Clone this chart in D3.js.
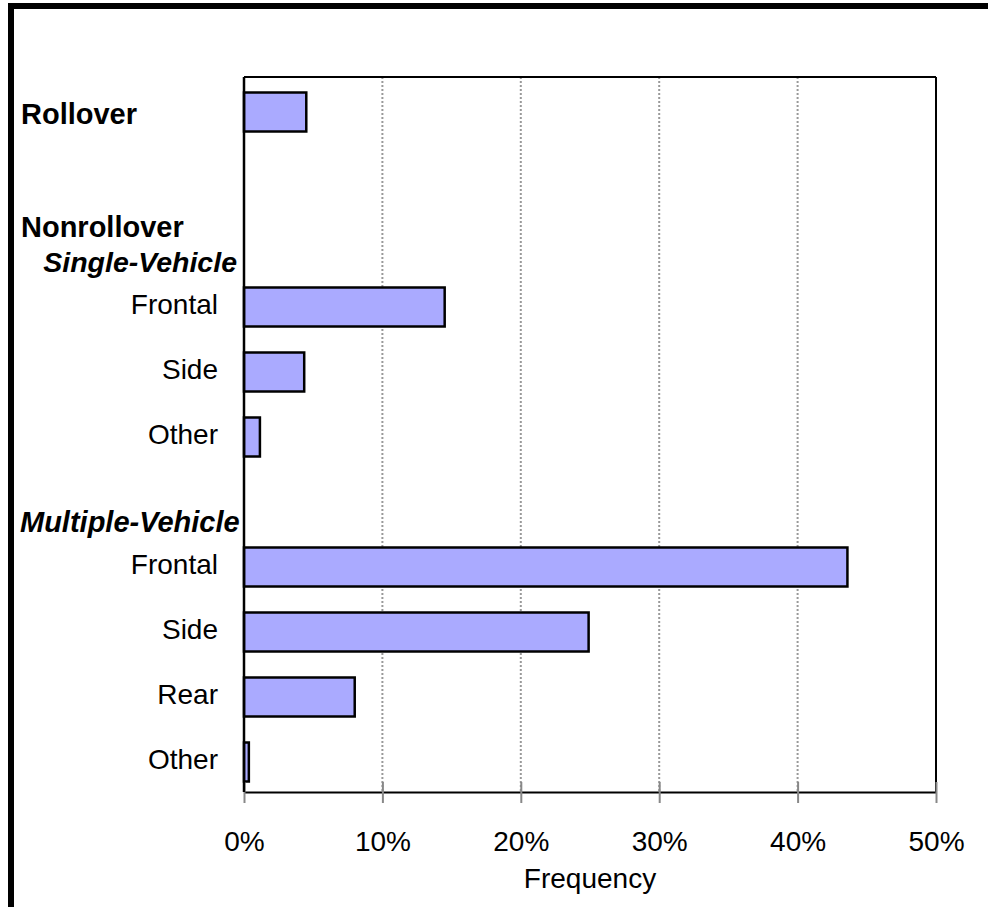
<!DOCTYPE html>
<html>
<head>
<meta charset="utf-8">
<script src="https://cdn.jsdelivr.net/npm/d3@7"></script>
<style>
  html, body { margin: 0; padding: 0; background: #fff; }
  svg { display: block; }
  text { font-family: Arial, "Liberation Sans", sans-serif; fill: #000; }
</style>
</head>
<body>
<svg id="chart" width="988" height="907"></svg>
<script>
// Crash type rows, top to bottom (empty rows are spacers / group headers)
const rowIds = ["rollover", "gap", "sv-head", "sv-frontal", "sv-side", "sv-other",
                "mv-head", "mv-frontal", "mv-side", "mv-rear", "mv-other"];
const itemLabels = ["", "", "", "Frontal", "Side", "Other", "", "Frontal", "Side", "Rear", "Other"];
// Frequency in percent (null = header row without a bar)
const frequency = [4.5, null, null, 14.5, 4.35, 1.15, null, 43.6, 24.9, 8.0, 0.35];
const xTicks = [0, 10, 20, 30, 40, 50];
const gridTicks = [10, 20, 30, 40];
const axisTitle = "Frequency";

const svg = d3.select("#chart");

const plot = { left: 244, right: 936, top: 77, bottom: 792 };

const x = d3.scaleLinear().domain([0, 50]).range([plot.left, plot.right]);
const y = d3.scaleBand().domain(rowIds).range([79.5, 794.5])
  .paddingInner(0.4).paddingOuter(0.2);
const center = id => y(id) + y.bandwidth() / 2;

// Outer frame (top and left edges)
svg.append("rect").attr("x", 8).attr("y", 3).attr("width", 980).attr("height", 6).attr("fill", "#000");
svg.append("rect").attr("x", 8).attr("y", 3).attr("width", 6).attr("height", 904).attr("fill", "#000");

// Dotted vertical gridlines
svg.append("g").selectAll("line").data(gridTicks).join("line")
  .attr("x1", d => x(d)).attr("x2", d => x(d))
  .attr("y1", plot.top).attr("y2", plot.bottom)
  .attr("stroke", "#999").attr("stroke-width", 2).attr("stroke-dasharray", "2,2");

// Plot frame: top and right edges
svg.append("line").attr("x1", plot.left).attr("x2", plot.right)
  .attr("y1", plot.top).attr("y2", plot.top).attr("stroke", "#000").attr("stroke-width", 2);
svg.append("line").attr("x1", plot.right).attr("x2", plot.right)
  .attr("y1", plot.top).attr("y2", plot.bottom).attr("stroke", "#000").attr("stroke-width", 2);

// Bars
const rows = rowIds.map((id, i) => ({ id, value: frequency[i], label: itemLabels[i] }));
svg.append("g").selectAll("rect").data(rows.filter(d => d.value != null)).join("rect")
  .attr("x", x(0))
  .attr("y", d => y(d.id))
  .attr("width", d => x(d.value) - x(0))
  .attr("height", y.bandwidth())
  .attr("fill", "#aaaaff")
  .attr("stroke", "#000")
  .attr("stroke-width", 2.5);

// X axis
const xAxis = d3.axisBottom(x).tickValues(xTicks).tickFormat(d => d + "%")
  .tickSizeInner(11).tickSizeOuter(0).tickPadding(0);
const gx = svg.append("g").attr("transform", `translate(0,${plot.bottom})`).call(xAxis);
gx.select(".domain").attr("stroke", "#000").attr("stroke-width", 2);
gx.selectAll(".tick line").attr("y1", -10).attr("y2", 11).attr("stroke", "#888").attr("stroke-width", 2);
gx.selectAll(".tick text").attr("y", 59).attr("dy", null)
  .attr("font-size", 28).attr("font-family", "Arial, 'Liberation Sans', sans-serif").attr("fill", "#000");
gx.attr("font-family", null).attr("font-size", null);

// Left axis line
svg.append("line").attr("x1", plot.left).attr("x2", plot.left)
  .attr("y1", plot.top).attr("y2", plot.bottom).attr("stroke", "#000").attr("stroke-width", 2.5);

// Axis title
svg.append("text").attr("x", (plot.left + plot.right) / 2).attr("y", 888)
  .attr("text-anchor", "middle").attr("font-size", 28).text(axisTitle);

// Item labels (right aligned next to the axis)
svg.append("g").selectAll("text").data(rows.filter(d => d.label)).join("text")
  .attr("x", 218).attr("y", d => center(d.id) + 7)
  .attr("text-anchor", "end").attr("font-size", 28).text(d => d.label);

// Group headers
svg.append("text").attr("x", 21).attr("y", center("rollover") + 12)
  .attr("font-size", 29).attr("font-weight", "bold").text("Rollover");
svg.append("text").attr("x", 21).attr("y", center("sv-head") - 5)
  .attr("font-size", 29).attr("font-weight", "bold").text("Nonrollover");
svg.append("text").attr("x", 237).attr("y", center("sv-head") + 30)
  .attr("text-anchor", "end").attr("font-size", 28.5).attr("font-weight", "bold")
  .attr("font-style", "italic").text("Single-Vehicle");
svg.append("text").attr("x", 20).attr("y", center("mv-head") + 30)
  .attr("font-size", 29).attr("font-weight", "bold")
  .attr("font-style", "italic").text("Multiple-Vehicle");
</script>
</body>
</html>
